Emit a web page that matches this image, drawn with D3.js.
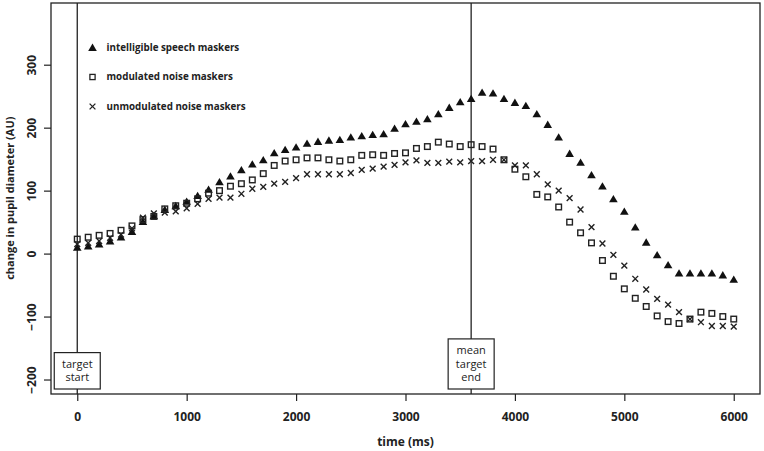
<!DOCTYPE html>
<html>
<head>
<meta charset="utf-8">
<script src="https://cdn.jsdelivr.net/npm/d3@7"></script>
<style>
  body { margin: 0; background: #fff; }
  svg { display: block; font-family: "Open Sans", sans-serif; }
</style>
</head>
<body>
<div id="chart"></div>
<script>
// time points (ms)
const timeMs = [0, 100, 200, 300, 400, 500, 600, 700, 800, 900,
  1000, 1100, 1200, 1300, 1400, 1500, 1600, 1700, 1800, 1900,
  2000, 2100, 2200, 2300, 2400, 2500, 2600, 2700, 2800, 2900,
  3000, 3100, 3200, 3300, 3400, 3500, 3600, 3700, 3800, 3900,
  4000, 4100, 4200, 4300, 4400, 4500, 4600, 4700, 4800, 4900,
  5000, 5100, 5200, 5300, 5400, 5500, 5600, 5700, 5800, 5900, 6000];

const speech = [10, 12, 15, 20, 26, 35, 51, 60, 70, 76,
  83, 92, 102, 114, 123, 133, 142, 149, 160, 165,
  169, 175, 178, 180, 181, 185, 187, 189, 190, 199,
  206, 210, 214, 222, 232, 241, 246, 256, 255, 246,
  240, 235, 222, 205, 185, 159, 145, 125, 107, 87,
  67, 42, 18, -2, -18, -31, -31, -31, -31, -34, -41];

const modulated = [23, 26, 29, 32, 37, 44, 54, 59, 71, 76,
  80, 87, 96, 100, 107, 111, 117, 127, 140, 147,
  149, 152, 152, 149, 147, 149, 156, 157, 156, 159,
  160, 167, 170, 177, 174, 170, 173, 170, 166, 149,
  134, 122, 94, 90, 74, 50, 33, 17, -11, -36,
  -56, -71, -84, -99, -108, -111, -104, -93, -95, -100, -104];

const unmodulated = [15, 17, 20, 25, 30, 40, 57, 64, 65, 67,
  72, 79, 87, 89, 89, 95, 103, 106, 111, 114,
  120, 126, 126, 126, 126, 128, 133, 135, 138, 141,
  145, 148, 144, 144, 146, 145, 147, 147, 149, 149,
  140, 140, 126, 110, 100, 88, 70, 42, 16, -2,
  -19, -40, -57, -72, -81, -93, -104, -109, -115, -115, -116];

const xTicks = [0, 1000, 2000, 3000, 4000, 5000, 6000];
const yTicks = [-200, -100, 0, 100, 200, 300];
const legendLabels = ["intelligible speech maskers", "modulated noise maskers", "unmodulated noise maskers"];
const markerLines = [
  { t: 0, label: ["target", "start"] },
  { t: 3600, label: ["mean", "target", "end"] }
];

const width = 764, height = 451;
const margin = { left: 51, top: 3, right: 4, bottom: 57 };

const svg = d3.select("#chart").append("svg")
  .attr("width", width)
  .attr("height", height);

const x = d3.scaleLinear().domain([-240, 6240]).range([margin.left, width - margin.right]);
const y = d3.scaleLinear().domain([-223, 398]).range([height - margin.bottom, margin.top]);

// axes
const xAxis = svg.append("g")
  .attr("transform", `translate(0,${height - margin.bottom})`)
  .call(d3.axisBottom(x).tickValues(xTicks).tickSize(7).tickPadding(11).tickFormat(d3.format("d")));
xAxis.select(".domain").remove();
xAxis.selectAll("line").attr("stroke", "#222").attr("stroke-width", 1.2);
xAxis.selectAll("text").attr("fill", "#222").style("font-size", "12px").style("font-weight", "bold")
  .style("font-family", "'Open Sans', sans-serif");

const yAxis = svg.append("g")
  .attr("transform", `translate(${margin.left},0)`)
  .call(d3.axisLeft(y).tickValues(yTicks).tickSize(7).tickFormat(d3.format("d")));
yAxis.select(".domain").remove();
yAxis.selectAll("line").attr("stroke", "#222").attr("stroke-width", 1.2);
yAxis.selectAll("text")
  .attr("fill", "#222")
  .style("font-size", "12px").style("font-weight", "bold")
  .style("font-family", "'Open Sans', sans-serif")
  .attr("x", null).attr("dy", null)
  .attr("text-anchor", "middle")
  .attr("transform", "translate(-19,0) rotate(-90)")
  .attr("dy", "0.35em");

// axis titles
svg.append("text")
  .attr("x", (x(-240) + x(6240)) / 2)
  .attr("y", 446)
  .attr("text-anchor", "middle")
  .style("font-size", "12px").style("font-weight", "bold")
  .attr("fill", "#222")
  .text("time (ms)");

svg.append("text")
  .attr("transform", `translate(14,${y(88)}) rotate(-90)`)
  .attr("text-anchor", "middle")
  .style("font-size", "11px").style("font-weight", "bold")
  .attr("fill", "#222")
  .text("change in pupil diameter (AU)");

// vertical event lines
svg.selectAll(".vline")
  .data(markerLines)
  .enter().append("line")
  .attr("class", "vline")
  .attr("x1", d => x(d.t)).attr("x2", d => x(d.t))
  .attr("y1", y(398)).attr("y2", y(-223))
  .attr("stroke", "#222").attr("stroke-width", 1.3);

// markers
const triPath = "M0,-3.9L4.3,3.4L-4.3,3.4Z";
svg.append("g").selectAll("path")
  .data(timeMs)
  .enter().append("path")
  .attr("d", triPath)
  .attr("transform", (d, i) => `translate(${x(d)},${y(speech[i])})`)
  .attr("fill", "#111");

svg.append("g").selectAll("rect")
  .data(timeMs)
  .enter().append("rect")
  .attr("x", d => x(d) - 2.8)
  .attr("y", (d, i) => y(modulated[i]) - 2.8)
  .attr("width", 5.6).attr("height", 5.6)
  .attr("fill", "none").attr("stroke", "#222").attr("stroke-width", 1.4);

const crossPath = "M-2.9,-2.9L2.9,2.9M-2.9,2.9L2.9,-2.9";
svg.append("g").selectAll("path")
  .data(timeMs)
  .enter().append("path")
  .attr("d", crossPath)
  .attr("transform", (d, i) => `translate(${x(d)},${y(unmodulated[i])})`)
  .attr("fill", "none").attr("stroke", "#222").attr("stroke-width", 1.4);

// label boxes on event lines
const boxes = svg.selectAll(".ebox")
  .data(markerLines)
  .enter().append("g")
  .attr("class", "ebox")
  .attr("transform", d => `translate(${x(d.t)},389)`);

boxes.append("rect")
  .attr("x", -23).attr("width", 46)
  .attr("y", d => -(d.label.length * 13.7 + 9))
  .attr("height", d => d.label.length * 13.7 + 9)
  .attr("fill", "#fff").attr("stroke", "#222").attr("stroke-width", 1.2);

boxes.each(function (d) {
  const g = d3.select(this);
  const top = -(d.label.length * 13.7 + 9);
  d.label.forEach((s, k) => {
    g.append("text")
      .attr("x", 0)
      .attr("y", top + 4.5 + 13.7 * k + 6.8)
      .attr("dy", "0.35em")
      .attr("text-anchor", "middle")
      .style("font-size", "11px")
      .attr("fill", "#222")
      .text(s);
  });
});

// legend
const legend = svg.append("g");
const legendY = [47.5, 77, 106.5];
legendLabels.forEach((lab, i) => {
  const gx = 92.5, gy = legendY[i];
  if (i === 0) {
    legend.append("path").attr("d", triPath).attr("transform", `translate(${gx},${gy})`).attr("fill", "#111");
  } else if (i === 1) {
    legend.append("rect").attr("x", gx - 2.6).attr("y", gy - 2.6).attr("width", 5.2).attr("height", 5.2)
      .attr("fill", "none").attr("stroke", "#222").attr("stroke-width", 1.3);
  } else {
    legend.append("path").attr("d", crossPath).attr("transform", `translate(${gx},${gy})`)
      .attr("fill", "none").attr("stroke", "#222").attr("stroke-width", 1.3);
  }
  legend.append("text")
    .attr("x", 106.5).attr("y", gy).attr("dy", "0.35em")
    .style("font-size", "9.8px").style("font-weight", "bold")
    .attr("fill", "#222")
    .text(lab);
});

// plot frame
svg.append("rect")
  .attr("x", x(-240)).attr("y", y(398))
  .attr("width", x(6240) - x(-240)).attr("height", y(-223) - y(398))
  .attr("fill", "none").attr("stroke", "#222").attr("stroke-width", 1.3);
</script>
</body>
</html>
